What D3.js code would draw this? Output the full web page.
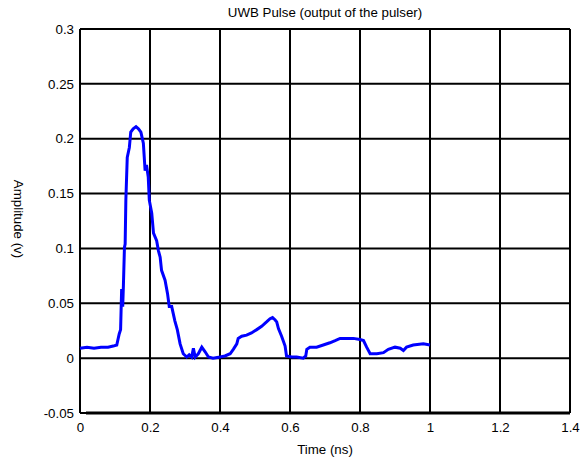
<!DOCTYPE html>
<html>
<head>
<meta charset="utf-8">
<script src="https://cdn.jsdelivr.net/npm/d3@7"></script>
<style>
  html, body { margin: 0; padding: 0; background: #fff; }
  svg { display: block; font-family: "Liberation Sans", Arial, sans-serif; }
</style>
</head>
<body>
<svg id="chart" width="587" height="462"></svg>
<script>
// Measured pulser output: time (ns) and amplitude (V)
const timeNs = [
  0, 0.02, 0.04, 0.06, 0.08, 0.095, 0.105, 0.112, 0.116, 0.119, 0.122, 0.124,
  0.127, 0.129, 0.131, 0.135, 0.141, 0.145, 0.152, 0.16, 0.167, 0.174, 0.181,
  0.186, 0.19, 0.195, 0.198, 0.205, 0.21, 0.219, 0.224, 0.229, 0.233, 0.243,
  0.25, 0.255, 0.262, 0.271, 0.278, 0.286, 0.295, 0.305, 0.312, 0.319, 0.324,
  0.329, 0.338, 0.348, 0.357, 0.367, 0.38, 0.4, 0.414, 0.429, 0.438, 0.448,
  0.452, 0.462, 0.476, 0.49, 0.505, 0.519, 0.533, 0.543, 0.55, 0.557, 0.562,
  0.567, 0.576, 0.586, 0.59, 0.605, 0.619, 0.638, 0.645, 0.648, 0.657, 0.676,
  0.695, 0.714, 0.729, 0.743, 0.762, 0.781, 0.8, 0.81, 0.819, 0.829, 0.848,
  0.867, 0.881, 0.9, 0.915, 0.924, 0.933, 0.952, 0.981, 1.0
];
const amplitudeV = [
  0.009, 0.010, 0.009, 0.010, 0.010, 0.011, 0.012, 0.022, 0.026, 0.063, 0.047, 0.066,
  0.101, 0.104, 0.144, 0.183, 0.192, 0.206, 0.209, 0.211, 0.209, 0.206, 0.196,
  0.171, 0.176, 0.165, 0.144, 0.132, 0.114, 0.107, 0.098, 0.092, 0.080, 0.071,
  0.059, 0.047, 0.047, 0.034, 0.026, 0.013, 0.004, 0.001, 0.003, 0.001, 0.009,
  0.001, 0.004, 0.010, 0.006, 0.001, 0.000, 0.001, 0.002, 0.004, 0.008, 0.013,
  0.018, 0.020, 0.021, 0.023, 0.026, 0.029, 0.033, 0.036, 0.037, 0.035, 0.033,
  0.027, 0.020, 0.011, 0.002, 0.001, 0.001, 0.000, 0.002, 0.008, 0.010, 0.010,
  0.012, 0.014, 0.016, 0.018, 0.018, 0.018, 0.017, 0.016, 0.010, 0.004, 0.004,
  0.005, 0.008, 0.010, 0.009, 0.007, 0.010, 0.012, 0.013, 0.012
];

const xTicks = [0, 0.2, 0.4, 0.6, 0.8, 1, 1.2, 1.4];
const yTicks = [-0.05, 0, 0.05, 0.1, 0.15, 0.2, 0.25, 0.3];

const titleText = "UWB Pulse (output of the pulser)";
const xLabel = "Time (ns)";
const yLabel = "Amplitude (v)";

const FONT = 13.3;
const svg = d3.select("#chart");
const margin = { left: 80, right: 17, top: 29, bottom: 49 };
const W = 587, H = 462;
const plotW = W - margin.left - margin.right;
const plotH = H - margin.top - margin.bottom;

const x = d3.scaleLinear().domain([0, 1.4]).range([margin.left, margin.left + plotW]);
const y = d3.scaleLinear().domain([-0.05, 0.3]).range([margin.top + plotH, margin.top]);

// plain-hyphen tick labels
const fmt = d => String(+d.toFixed(2));

// grid lines
const grid = svg.append("g");
grid.selectAll("line.v").data(xTicks).join("line")
  .attr("x1", d => x(d)).attr("x2", d => x(d))
  .attr("y1", y(0.3)).attr("y2", y(-0.05))
  .attr("stroke", "#000").attr("stroke-width", 2);
grid.selectAll("line.h").data(yTicks).join("line")
  .attr("x1", x(0)).attr("x2", x(1.4))
  .attr("y1", d => y(d)).attr("y2", d => y(d))
  .attr("stroke", "#000").attr("stroke-width", 2);

// bottom frame edge drawn slightly heavier
svg.append("line")
  .attr("x1", x(0) + 6).attr("x2", x(1.4))
  .attr("y1", y(-0.05)).attr("y2", y(-0.05))
  .attr("stroke", "#000").attr("stroke-width", 3);

// axes (labels only; ticks are covered by the grid)
const xAxis = svg.append("g")
  .attr("transform", `translate(0,${y(-0.05)})`)
  .call(d3.axisBottom(x).tickValues(xTicks).tickSize(0).tickPadding(10).tickFormat(fmt));
xAxis.select(".domain").remove();
xAxis.selectAll("text").attr("font-size", FONT).attr("fill", "#000")
  .attr("font-family", "Liberation Sans, Arial, sans-serif");

const yAxis = svg.append("g")
  .attr("transform", `translate(${x(0)},0)`)
  .call(d3.axisLeft(y).tickValues(yTicks).tickSize(0).tickPadding(6).tickFormat(fmt));
yAxis.select(".domain").remove();
yAxis.selectAll("text").attr("font-size", FONT).attr("fill", "#000")
  .attr("font-family", "Liberation Sans, Arial, sans-serif");

// pulse trace
const line = d3.line()
  .x((d, i) => x(timeNs[i]))
  .y(d => y(d));
svg.append("path")
  .datum(amplitudeV)
  .attr("d", line)
  .attr("fill", "none")
  .attr("stroke", "#0000ff")
  .attr("stroke-width", 3)
  .attr("stroke-linejoin", "miter");

// titles
svg.append("text")
  .attr("x", x(0) + plotW / 2).attr("y", 17)
  .attr("text-anchor", "middle").attr("font-size", FONT)
  .text(titleText);
svg.append("text")
  .attr("x", x(0) + plotW / 2).attr("y", 454)
  .attr("text-anchor", "middle").attr("font-size", FONT)
  .text(xLabel);
svg.append("text")
  .attr("transform", `translate(14,${margin.top + plotH / 2 - 2}) rotate(90)`)
  .attr("text-anchor", "middle").attr("font-size", FONT)
  .text(yLabel);
</script>
</body>
</html>
